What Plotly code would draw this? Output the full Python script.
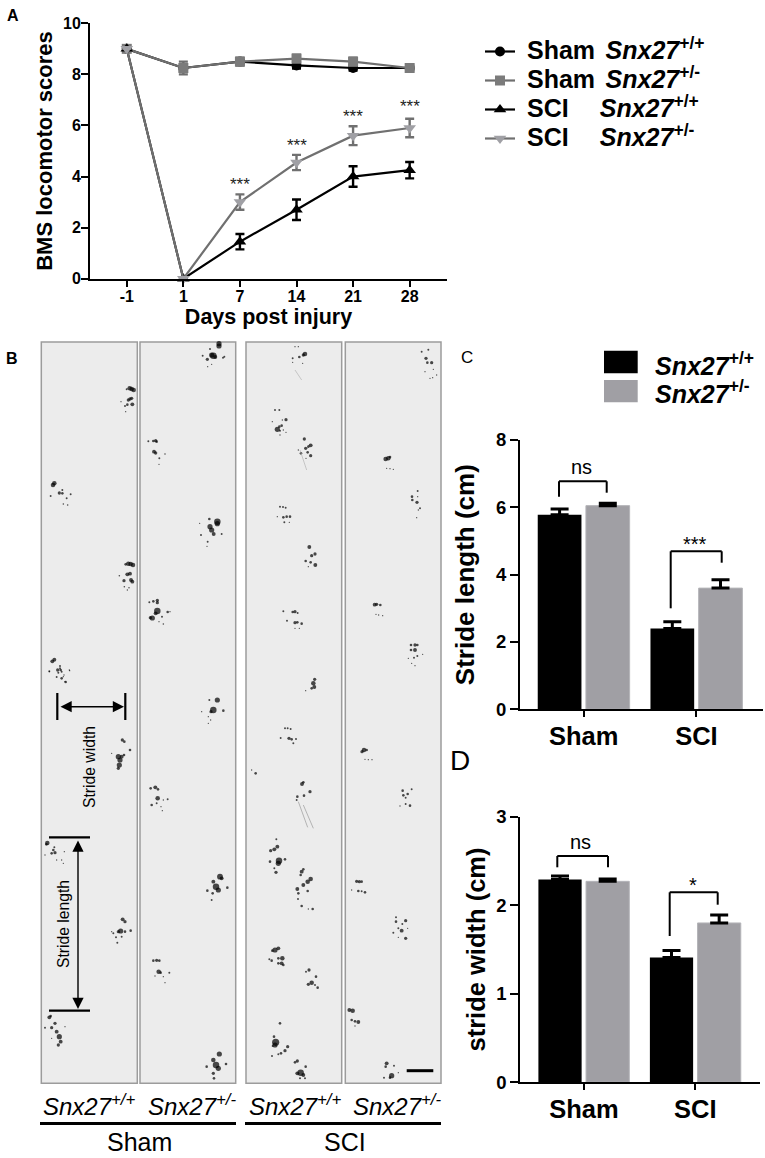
import plotly.graph_objects as go

W, H = 765, 1158
FONT = "Liberation Sans"

# ---------- Panel A data ----------
days = ["-1", "1", "7", "14", "21", "28"]
sham_wt = [9, 8.25, 8.5, 8.35, 8.25, 8.25]
sham_het = [9, 8.25, 8.5, 8.62, 8.5, 8.25]
sci_wt = [9, 0, 1.45, 2.7, 4.0, 4.25]
sci_het = [9, 0, 3.0, 4.55, 5.6, 5.9]
sham_wt_err = [0, 0.1, 0.05, 0.12, 0.1, 0.08]
sham_het_err = [0, 0.25, 0.15, 0.15, 0.15, 0.1]
sci_wt_err = [0, 0, 0.3, 0.4, 0.4, 0.32]
sci_het_err = [0, 0, 0.3, 0.3, 0.37, 0.36]
star_days = [2, 3, 4, 5]
star_levels = [3.7, 5.2, 6.35, 6.75]
yticks_a = [0, 2, 4, 6, 8, 10]

# ---------- Panels C / D data ----------
groups = ["Sham", "SCI"]
stride_len_wt = [5.78, 2.4]
stride_len_het = [6.05, 3.6]
stride_len_wt_err = [0.17, 0.2]
stride_len_het_err = [0.07, 0.25]
stride_wid_wt = [2.29, 1.41]
stride_wid_het = [2.27, 1.8]
stride_wid_wt_err = [0.04, 0.08]
stride_wid_het_err = [0.025, 0.09]

# ---------- Panel B footprint dots (x, y, diameter) ----------
dots_upper_left = (35, 335, [
 (284,160,3.5),(290,162,3.5),(296,165,3.5),(275,163,1.5),(285,192,2.5),(280,195,2.5),(290,190,2.5),(292,208,3),(277,209,2),(270,213,1.5),(272,230,1),(258,200,1),
 (54,450,3.5),(58,445,3.5),(73,474,2.5),(82,465,1.5),(82,475,2),(95,490,1.5),(107,478,1.5),(47,483,1.5),(85,507,1.2),(98,510,1.2),
 (280,686,3.5),(287,687,3.5),(294,690,3.5),(272,688,2),(277,718,3),(285,716,3),(267,737,2.5),(288,735,3),(292,740,3),(253,722,1.2),(268,755,1.2),(282,758,1.2),(277,765,1),
 (52,979,3),(58,974,3),(68,1005,2.5),(77,1005,2),(75,993,1.5),(43,1009,1.5),(65,1026,1.5),(80,1030,2),(92,1041,2),(87,1020,1),(104,1007,1),
 (552,26,4),(552,33,4),(525,42,1.5),(535,62,5),(530,60,4),(541,66,3),(517,73,2.5),(503,62,1.5),(568,65,1.5),(564,68,1.5),(518,95,1),(530,88,1),
 (340,319,1.5),(355,318,2),(362,317,2.5),(365,320,2),(357,350,3),(362,354,2.5),(390,357,1.2),(373,370,1.5),(372,388,1),
 (547,560,5),(547,566,4),(523,552,2),(525,575,4),(530,585,4),(536,597,3),(560,597,1.5),(498,600,1.5),(518,620,1.5),(516,634,1),(494,565,1),
 (343,802,1.5),(355,799,2),(367,796,2.5),(367,803,2.5),(367,828,5),(362,835,3),(352,849,4),(346,848,2.5),(398,831,2),(381,845,1.5),(405,830,1),(385,867,1.2),(372,860,1),
])
dots_lower_left = (0, 660, [
 (367,240,2.5),(373,245,2),(390,270,2),(335,280,1),(355,290,4),(360,300,4),(365,290,3),(358,315,4),(372,285,2),(355,325,2.5),
 (368,778,3),(375,785,2.5),(362,813,4),(355,815,2.5),(375,815,2),(392,812,2),(340,820,1.5),(335,815,1),(352,848,1.5),(348,832,1.5),(365,830,1.5),
 (142,549,3.5),(139,553,2),(160,570,2),(165,578,2.5),(155,580,2),(193,575,1),(135,585,1),(170,600,1),(190,610,1),(185,600,1),(163,562,1.5),
 (148,1072,3),(152,1068,2),(165,1090,2.5),(155,1103,2.5),(170,1115,3),(178,1130,4),(182,1145,3),(175,1155,2.5),(195,1100,1),(135,1103,1.5),(155,1135,1),
 (180,25,1.5),(175,38,1.5),(185,35,1.5),(190,50,1),(148,35,1),(208,30,1),(195,65,1),
 (652,120,4),(628,120,1.5),(640,150,5),(633,155,2.5),(670,152,2),(605,155,1),(625,170,1),(632,180,1),(625,190,1),
 (452,385,2),(466,382,3),(474,388,2),(473,415,3.5),(455,435,2),(470,430,1.5),(503,418,1.5),(487,452,1),(483,440,1),(490,420,1),
 (660,650,4.5),(665,655,3),(640,665,3),(648,680,5),(655,690,4),(622,692,2),(682,683,2),(638,700,2),(635,720,1.5),
 (460,902,2),(470,901,2.5),(478,902,2),(476,935,3.5),(482,938,2),(508,938,1.5),(465,948,1),(490,950,1),(495,968,1),
 (658,1182,4),(640,1200,3.5),(648,1215,5),(655,1225,4),(678,1212,2),(620,1220,2),(640,1240,2.5),(642,1255,2),
])
dots_upper_right = (240, 335, [
 (195,57,3.5),(190,60,2.5),(178,66,2),(165,35,1),(175,35,1),(158,70,1.5),(158,82,1),(188,85,1),
 (105,225,1.5),(118,225,1.5),(138,254,2.5),(127,255,1),(112,283,4),(118,275,2),(125,272,2),(120,287,1.5),(130,285,1),(138,292,1),(97,260,1),(120,300,1),
 (193,312,2.5),(212,331,3),(205,335,2),(197,340,2.5),(183,355,2),(203,352,2),(212,362,2.5),(175,345,1),(198,370,1),
 (120,515,1.5),(129,516,1.5),(137,518,1.5),(130,547,2),(140,545,2),(150,545,2),(112,545,1),(133,562,1.5),(148,562,1),
 (208,636,3),(225,657,2.5),(215,662,2.5),(197,678,2),(212,682,2),(226,690,3),(205,695,1),
 (130,829,1.5),(158,831,2),(165,830,2.5),(173,834,1.5),(141,857,1.5),(165,863,2.5),(172,862,2),(185,866,2),(165,880,1),(178,880,1),
 (224,1033,2.5),(220,1045,3.5),(223,1056,3),(215,1060,2),(197,1067,1),
 (545,50,1.5),(565,44,1.5),(558,70,2.5),(562,83,2),(575,83,2.5),(580,103,1),(555,110,1),(570,130,1),(590,120,1),(578,128,1),
 (437,372,3.5),(445,370,3.5),(450,366,2),(440,400,1),(450,401,1),(460,403,1),
 (533,468,1.5),(516,485,2),(517,495,2),(531,502,2.5),(533,485,1),(540,520,1.5),(535,525,1),(530,548,1),
 (404,809,3),(410,808,2.5),(421,810,2),(408,838,1),(416,840,1),(428,842,1),
 (513,930,2),(513,945,2),(525,930,2.5),(532,930,2),(525,945,3),(532,963,1.5),(522,968,1.5),(505,970,1),(515,985,1),(525,992,1),(548,958,1),
])
dots_lower_right = (240, 700, [
 (135,85,1.5),(143,85,1.5),(152,87,1.5),(122,114,1.5),(147,115,2.5),(155,118,2),(168,117,1.5),(160,130,1.5),
 (35,210,1),(47,220,2),
 (186,252,3),(190,247,2),(210,275,2.5),(192,287,2),(172,290,2),(170,300,1.5),
 (109,418,1.5),(112,440,3),(103,448,3),(92,452,2.5),(117,482,5),(115,490,4),(135,478,2),(90,485,2),(103,505,1.5),(108,517,2.5),
 (185,515,3),(190,508,2),(182,525,2),(212,537,3.5),(203,545,3.5),(190,555,3),(172,567,3),(175,580,2),(203,573,2),(174,597,1.5),(185,618,2),(205,627,1),(218,627,2),
 (105,750,4),(115,745,3),(97,752,2),(127,775,3.5),(115,775,2),(125,790,3),(115,790,2),(130,795,2),(95,782,2),(88,778,1.5),
 (207,810,2.5),(198,815,1.5),(228,830,2),(215,848,3.5),(205,853,2.5),(225,855,1.5),(233,863,2),
 (120,970,2),(107,1027,5.5),(105,1035,4),(102,1010,2),(98,1038,1.5),(143,1040,2.5),(135,1052,2.5),(123,1060,2),(115,1063,1.5),(96,1068,1.5),
 (172,1083,2.5),(165,1087,2),(197,1100,2),(182,1118,5),(172,1120,3),(190,1125,3),(195,1135,1.5),(180,1135,1.5),
 (372,150,3.5),(366,155,2.5),(380,150,2),(375,178,1),(385,179,1),(396,179,1),
 (488,272,2),(515,268,1.5),(490,286,2),(503,282,2),(497,293,1.5),(510,317,2),(497,312,1.5),(480,318,1),
 (350,544,2.5),(358,545,2.5),(365,545,2),(355,573,2),(365,574,1.5),(375,577,2),(335,570,1),
 (468,652,1.5),(468,665,2),(497,662,2.5),(487,672,1.5),(475,685,1.5),(485,692,3),(460,698,1.5),(475,712,1),(497,715,2.5),(503,685,1),
 (328,930,3),(338,932,3.5),(335,960,2),(345,964,2),(355,966,3),(345,978,1),
 (440,1090,3),(437,1100,2),(462,1097,1.5),(432,1133,1.5),(455,1127,4),(450,1133,2),(475,1118,1),
])

def dom_x(a, b): return [a / W, b / W]
def dom_y(top, bottom): return [1 - bottom / H, 1 - top / H]

fig = go.Figure()

# ---------- footprints on the page-wide axis ----------
fx, fy, fs = [], [], []
for x0, y0, pts in (dots_upper_left, dots_lower_left, dots_upper_right, dots_lower_right):
    for zx, zy, s in pts:
        fx.append(x0 + zx / 3); fy.append(y0 + zy / 3); fs.append(s * 1.3)
fig.add_trace(go.Scatter(x=fx, y=fy, mode="markers", xaxis="x", yaxis="y", showlegend=False,
                         hoverinfo="skip", marker=dict(size=fs, color="#000000", line=dict(width=0))))

# ---------- Panel A ----------
def key(word, sup, count, size):
    gap = '<span style="font-size:%dpx">%s</span>' % (size, "\u00a0" * count)
    return '<span style="font-size:25px">\u00a0<b>%s%s<i>Snx27</i><sup>%s</sup></b></span>' % (word, gap, sup)

series_a = [
    (sham_wt, sham_wt_err, key("Sham", "+/+", 2, 19), "#000000", "#000000", "circle", 10),
    (sham_het, sham_het_err, key("Sham", "+/-", 2, 19), "#6f6f6f", "#7b7b7b", "square", 10),
    (sci_wt, sci_wt_err, key("SCI", "+/+", 4, 28), "#000000", "#000000", "triangle-up", 11),
    (sci_het, sci_het_err, key("SCI", "+/-", 4, 28), "#707070", "#a0a0a5", "triangle-down", 11),
]
for vals, errs, name, lc, mc, sym, ms in series_a:
    fig.add_trace(go.Scatter(
        x=days, y=vals, name=name, mode="lines+markers", xaxis="x2", yaxis="y2", cliponaxis=False,
        line=dict(color=lc, width=2.2),
        marker=dict(symbol=sym, size=ms, color=mc, line=dict(width=0)),
        error_y=dict(type="data", array=errs, color=lc, thickness=2.4, width=4.5),
    ))

# ---------- Panels C and D ----------
GRAY = "#a09fa4"
for xa, ya, wt, het, wte, hte in (
    ("x3", "y3", stride_len_wt, stride_len_het, stride_len_wt_err, stride_len_het_err),
    ("x4", "y4", stride_wid_wt, stride_wid_het, stride_wid_wt_err, stride_wid_het_err),
):
    fig.add_trace(go.Bar(x=groups, y=wt, xaxis=xa, yaxis=ya, showlegend=False, marker=dict(color="#000000", line=dict(width=0)),
                         error_y=dict(type="data", array=wte, symmetric=False, arrayminus=[0, 0], color="#000000", thickness=3, width=9)))
    fig.add_trace(go.Bar(x=groups, y=het, xaxis=xa, yaxis=ya, showlegend=False, marker=dict(color=GRAY, line=dict(color="#b4b4b8", width=1)),
                         error_y=dict(type="data", array=hte, symmetric=False, arrayminus=[0, 0], color="#000000", thickness=3, width=9)))

bold_tick = dict(family=FONT, weight=700, color="#000000")
axis_common = dict(showgrid=False, zeroline=False, showline=True, linecolor="#000000", linewidth=2,
                   ticks="outside", tickcolor="#000000", tickwidth=2, automargin=False)

shapes, annots = [], []
def seg(x0, y0, x1, y1, width=2, color="#000000"):
    shapes.append(dict(type="line", xref="x", yref="y", x0=x0, y0=y0, x1=x1, y1=y1,
                       line=dict(color=color, width=width), layer="above"))
def text(x, y, t, size, anchor="center", angle=0, weight=None):
    f = dict(family=FONT, size=size, color="#000000")
    if weight: f["weight"] = weight
    annots.append(dict(xref="x", yref="y", x=x, y=y, text=t, showarrow=False, xanchor=anchor, yanchor="middle",
                       font=f, textangle=angle))

# Panel B frames
for x0, x1 in ((41.3, 137.3), (140, 235.7), (246, 341.7), (345.3, 441)):
    shapes.append(dict(type="rect", xref="x", yref="y", x0=x0, x1=x1, y0=342, y1=1083.3, layer="below",
                       fillcolor="#ececec", line=dict(color="#9c9c9c", width=1.5)))
# faint drag marks in the SCI panel
for z in ((165, 105, 185, 135), (180, 345, 200, 405)):
    seg(240 + z[0] / 3, 335 + z[1] / 3, 240 + z[2] / 3, 335 + z[3] / 3, 0.7, "#b5b5b5")
for z in ((175, 305, 203, 382), (190, 315, 220, 385)):
    seg(240 + z[0] / 3, 700 + z[1] / 3, 240 + z[2] / 3, 700 + z[3] / 3, 0.8, "#a5a5a5")

# Stride annotations
seg(57.3, 693, 57.3, 720, 2.2); seg(125.3, 693, 125.3, 720, 2.2)
seg(49, 837.3, 90, 837.3, 2.2); seg(49, 1010.7, 90, 1010.7, 2.2)
for xa0, ya0, xa1, ya1 in ((59, 706.7, 124, 706.7), (78, 839, 78, 1009)):
    annots.append(dict(xref="x", yref="y", axref="x", ayref="y", x=xa1, y=ya1, ax=xa0, ay=ya0, text="", showarrow=True,
                       arrowhead=2, arrowside="end+start", arrowsize=1.6, arrowwidth=1.4, arrowcolor="#000000"))
text(89, 767, "Stride width", 15.7, angle=-90)
text(63, 924, "Stride length", 15.7, angle=-90)
seg(406.7, 1070.7, 433.3, 1070.7, 3)

# Panel B captions
for cx, sup in ((89, "+/+"), (192, "+/-"), (295, "+/+"), (397.5, "+/-")):
    text(cx, 1105, "<i>Snx27<sup>%s</sup></i>" % sup, 24)
seg(40, 1123.5, 236, 1123.5, 3); seg(245, 1123.5, 441, 1123.5, 3)
text(139, 1141.5, "Sham", 25); text(345, 1141.5, "SCI", 25)

# Panel letters
text(13, 15, "A", 16, weight=700); text(12, 358, "B", 16, weight=700)
text(467, 357, "C", 17); text(460, 760, "D", 28)

# C legend
for top, bot, col in ((350.7, 373.3, "#000000"), (380, 402.3, GRAY)):
    shapes.append(dict(type="rect", xref="x", yref="y", x0=604, x1=637.7, y0=top, y1=bot, layer="above",
                       fillcolor=col, line=dict(width=0)))
text(653, 364, "<b><i>Snx27</i><sup>+/+</sup></b>", 25, anchor="left")
text(653, 392, "<b><i>Snx27</i><sup>+/-</sup></b>", 25, anchor="left")

# Brackets
for pts in (((559, 496.7), (559, 481.3), (606.7, 481.3), (606.7, 492.7)),
            ((670.7, 608.3), (670.7, 551.3), (721.7, 551.3), (721.7, 562.7)),
            ((557.3, 867.3), (557.3, 856), (608, 856), (608, 867.3)),
            ((669.7, 936), (669.7, 892.3), (717.7, 892.3), (717.7, 904.7))):
    for a, b in zip(pts[:-1], pts[1:]):
        seg(a[0], a[1], b[0], b[1], 2)
text(581.7, 467, "ns", 20); text(695, 544, "***", 20)
text(580, 842, "ns", 20); text(693.3, 885, "*", 20)

# Panel A stars
for d, lv in zip(star_days, star_levels):
    annots.append(dict(xref="x2", yref="y2", x=d, y=lv, text="***", showarrow=False,
                       font=dict(family=FONT, size=17, color="#222222")))

fig.update_layout(
    width=W, height=H, margin=dict(l=0, r=0, t=0, b=0, autoexpand=False), paper_bgcolor="white", plot_bgcolor="rgba(0,0,0,0)",
    barmode="group", bargap=0.145, bargroupgap=0.093, shapes=shapes, annotations=annots,
    xaxis=dict(domain=[0, 1], range=[0, W], visible=False, fixedrange=True),
    yaxis=dict(domain=[0, 1], range=[H, 0], visible=False, fixedrange=True),
    xaxis2=dict(domain=dom_x(90, 447), anchor="y2", type="category", categoryorder="array", categoryarray=days,
                range=[-0.65, 5.66], ticklen=6, tickfont=dict(size=16, **bold_tick), ticklabelstandoff=-4,
                title=dict(text="Days post injury", standoff=4, font=dict(size=21.5, **bold_tick)), **axis_common),
    yaxis2=dict(domain=dom_y(23.3, 278.7), anchor="x2", range=[0, 10], tickvals=yticks_a, ticklen=7,
                tickfont=dict(size=16, **bold_tick), ticklabelstandoff=-3,
                title=dict(text="BMS locomotor scores", standoff=4, font=dict(size=22, **bold_tick)), **axis_common),
    xaxis3=dict(domain=dom_x(520, 762.7), anchor="y3", type="category", range=[-0.565, 1.588], ticklen=6,
                tickfont=dict(size=25.5, **bold_tick), ticklabelstandoff=-3, **axis_common),
    yaxis3=dict(domain=dom_y(440, 709.3), anchor="x3", range=[0, 8], tickvals=[0, 2, 4, 6, 8], ticklen=8,
                tickfont=dict(size=18.5, **bold_tick),
                title=dict(text="Stride length (cm)", standoff=14, font=dict(size=26, **bold_tick)), **axis_common),
    xaxis4=dict(domain=dom_x(520.3, 760), anchor="y4", type="category", range=[-0.57, 1.58], ticklen=6,
                tickfont=dict(size=25.5, **bold_tick), ticklabelstandoff=-3, **axis_common),
    yaxis4=dict(domain=dom_y(816.7, 1082.3), anchor="x4", range=[0, 3], tickvals=[0, 1, 2, 3], ticklen=8,
                tickfont=dict(size=18.5, **bold_tick),
                title=dict(text="stride width (cm)", standoff=3, font=dict(size=25.5, **bold_tick)), **axis_common),
    legend=dict(x=480 / W, y=1 - 32 / H, xanchor="left", yanchor="top", bgcolor="rgba(0,0,0,0)", itemclick=False,
                font=dict(family=FONT, size=20, color="#000000"), tracegroupgap=0, borderwidth=0),
)

fig.write_html("out.html", config=dict(displayModeBar=False), post_script="document.body.style.margin='0';")
